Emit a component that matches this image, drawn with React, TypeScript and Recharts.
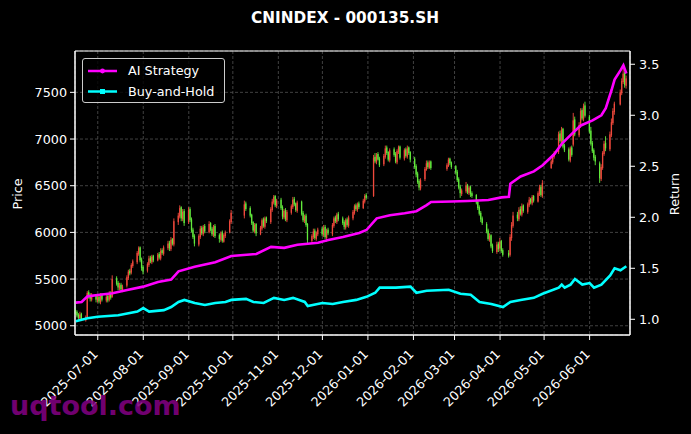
import { ComposedChart, Bar, Line, XAxis, YAxis, CartesianGrid, ReferenceArea } from 'recharts';

const FONT = '"DejaVu Sans", sans-serif';
const W = 691;
const H = 434;

const monthTicks = [
  '2025-07-01', '2025-08-01', '2025-09-01', '2025-10-01', '2025-11-01', '2025-12-01',
  '2026-01-01', '2026-02-01', '2026-03-01', '2026-04-01', '2026-05-01', '2026-06-01',
];
const priceTicks = [5000, 5500, 6000, 6500, 7000, 7500];
const returnTicks = [1.0, 1.5, 2.0, 2.5, 3.0, 3.5];

// exchange holidays (no candle on these weekdays)
const holidays = [
  '2025-10-01', '2025-10-02', '2025-10-03', '2025-10-06', '2025-10-07', '2025-10-08',
  '2026-01-01', '2026-01-02', '2026-02-16', '2026-02-17', '2026-02-18', '2026-02-19',
  '2026-02-20', '2026-02-23', '2026-04-06', '2026-05-01', '2026-05-04', '2026-05-05', '2026-06-19',
];

// daily OHLC, one entry per trading day, 2025-06-16 .. 2026-06-26
const opens = [
  5170, 5150, 5120, 5080, 5130, 5060, 5090, 5360, 5330, 5280, 5320,
  5270, 5310, 5250, 5330, 5270, 5320, 5280, 5350, 5310, 5510, 5460, 5400, 5440, 5380, 5430, 5510, 5590, 5570, 5640, 5680, 5770, 5840, 5710,
  5630, 5590, 5650, 5730, 5680, 5750, 5700, 5770, 5720, 5810, 5770, 5830, 5890, 5820, 5930, 5870, 6110, 6170, 6270, 6140, 6230,
  6110, 6250, 6140, 6030, 5960, 5870, 5950, 6050, 5980, 6070, 6000, 6100, 6040, 5970, 6070, 5970, 5920, 6000, 5900, 5960, 6000, 6110,
  6180, 6310, 6260, 6190, 6110, 6010, 6090, 5980, 6040, 6140, 6060, 6160, 6110, 6240, 6320, 6390, 6280,
  6350, 6270, 6160, 6240, 6130, 6210, 6270, 6360, 6310, 6230, 6330, 6210, 6120, 6180, 6090, 5910, 5950, 6020, 5930, 5980,
  6040, 5970, 6060, 5940, 6030, 5980, 6070, 6160, 6110, 6200, 6150, 6110, 6050, 6140, 6070, 6150, 6210, 6290, 6240, 6310, 6260, 6330, 6400,
  6390, 6810, 6750, 6840, 6790, 6730, 6810, 6910, 6860, 6770, 6890, 6840, 6750, 6860, 6920, 6790, 6890, 6810, 6910, 6860,
  6790, 6710, 6630, 6550, 6470, 6570, 6670, 6750, 6690, 6760, 6680, 6710, 6790, 6750,
  6710, 6650, 6570, 6490, 6410, 6440, 6510, 6420, 6490, 6420, 6400, 6330, 6270, 6210, 6150, 6090, 6020, 5920, 5970, 5860, 5790, 5880,
  5830, 5910, 5810, 5780, 5760, 5940, 6070, 6190, 6140, 6250, 6190, 6290, 6220, 6290, 6360, 6310, 6390, 6330, 6410, 6490, 6390,
  6690, 6750, 6810, 6860, 7060, 6970, 7110, 6930, 6890, 6770, 6910, 6940, 7210, 7040, 7140, 7310, 7210, 7360,
  7240, 7090, 6960, 6880, 6810, 6740, 6570, 6690, 6840, 6960, 6890, 7040, 7170, 7290, 7370, 7490, 7610, 7710, 7570,
];
const highs = [
  5190, 5165, 5135, 5150, 5140, 5110, 5370, 5380, 5350, 5350, 5340,
  5330, 5330, 5350, 5350, 5340, 5340, 5370, 5370, 5540, 5530, 5480, 5460, 5460, 5440, 5540, 5600, 5610, 5670, 5710, 5800, 5850, 5850, 5730,
  5650, 5680, 5750, 5750, 5760, 5760, 5780, 5790, 5830, 5830, 5860, 5910, 5910, 5950, 5940, 6150, 6210, 6290, 6280, 6250, 6250,
  6270, 6270, 6160, 6050, 5980, 5980, 6070, 6070, 6080, 6090, 6120, 6110, 6060, 6080, 6090, 5990, 6010, 6020, 5990, 6020, 6140, 6240,
  6340, 6330, 6280, 6200, 6120, 6100, 6100, 6070, 6150, 6160, 6170, 6170, 6270, 6360, 6400, 6400, 6360,
  6370, 6290, 6250, 6260, 6240, 6300, 6380, 6380, 6320, 6340, 6340, 6230, 6190, 6200, 6100, 5980, 6040, 6040, 6010, 6050,
  6060, 6080, 6080, 6040, 6050, 6100, 6170, 6180, 6210, 6220, 6170, 6130, 6150, 6160, 6180, 6240, 6300, 6310, 6320, 6330, 6360, 6410, 6420,
  6830, 6850, 6850, 6860, 6810, 6840, 6930, 6930, 6870, 6900, 6910, 6860, 6890, 6930, 6930, 6900, 6910, 6930, 6920, 6870,
  6810, 6730, 6650, 6570, 6580, 6700, 6770, 6770, 6770, 6770, 6740, 6800, 6800, 6760,
  6720, 6670, 6590, 6510, 6470, 6540, 6520, 6500, 6500, 6440, 6410, 6350, 6290, 6230, 6170, 6110, 6040, 5990, 5980, 5880, 5900, 5900,
  5940, 5920, 5830, 5810, 5980, 6110, 6220, 6220, 6270, 6280, 6310, 6300, 6320, 6380, 6370, 6400, 6400, 6440, 6510, 6510, 6560,
  6780, 6840, 6870, 7080, 7090, 7130, 7120, 6950, 6910, 6920, 6930, 7280, 7240, 7180, 7330, 7330, 7380, 7400,
  7260, 7130, 6980, 6900, 6830, 6760, 6730, 6870, 6980, 7030, 7080, 7220, 7330, 7400, 7530, 7650, 7760, 7720, 7680,
];
const lows = [
  5120, 5090, 5060, 5065, 5050, 5045, 5080, 5290, 5260, 5260, 5250,
  5250, 5240, 5230, 5260, 5250, 5250, 5260, 5280, 5300, 5430, 5380, 5380, 5370, 5360, 5410, 5490, 5540, 5550, 5620, 5660, 5750, 5680, 5590,
  5550, 5570, 5630, 5670, 5660, 5680, 5690, 5710, 5700, 5760, 5750, 5810, 5800, 5800, 5860, 5850, 6080, 6150, 6120, 6120, 6070,
  6090, 6110, 6000, 5930, 5850, 5850, 5930, 5970, 5960, 5990, 5990, 6010, 5960, 5950, 5940, 5890, 5900, 5890, 5890, 5940, 5990, 6090,
  6150, 6230, 6160, 6080, 6000, 5990, 5960, 5970, 6020, 6050, 6040, 6100, 6090, 6220, 6300, 6270, 6260,
  6240, 6140, 6140, 6120, 6110, 6190, 6250, 6280, 6220, 6210, 6180, 6110, 6100, 6060, 5880, 5890, 5930, 5920, 5910, 5960,
  5960, 5950, 5930, 5900, 5970, 5960, 6050, 6100, 6090, 6120, 6080, 6030, 6030, 6060, 6050, 6130, 6190, 6230, 6220, 6250, 6250, 6310, 6350,
  6380, 6740, 6730, 6770, 6700, 6710, 6790, 6830, 6760, 6750, 6810, 6740, 6730, 6840, 6780, 6770, 6800, 6790, 6830, 6750,
  6680, 6590, 6520, 6450, 6450, 6550, 6660, 6680, 6680, 6670, 6660, 6700, 6720, 6680,
  6620, 6540, 6460, 6370, 6390, 6420, 6410, 6400, 6380, 6370, 6300, 6240, 6180, 6110, 6080, 5990, 5910, 5900, 5830, 5780, 5770, 5790,
  5800, 5780, 5740, 5730, 5740, 5910, 6050, 6120, 6120, 6180, 6170, 6210, 6200, 6270, 6300, 6290, 6320, 6320, 6390, 6380, 6370,
  6680, 6730, 6790, 6840, 6960, 6950, 6900, 6860, 6760, 6750, 6810, 6920, 7030, 7020, 7120, 7200, 7190, 7230,
  7060, 6930, 6850, 6770, 6720, 6530, 6550, 6670, 6820, 6870, 6870, 7020, 7150, 7260, 7360, 7470, 7590, 7550, 7540,
];
const closes = [
  5140, 5110, 5085, 5120, 5070, 5090, 5350, 5310, 5290, 5330, 5280,
  5300, 5260, 5320, 5280, 5310, 5270, 5340, 5300, 5500, 5450, 5410, 5430, 5390, 5420, 5520, 5580, 5560, 5650, 5690, 5780, 5830, 5700, 5620,
  5580, 5660, 5720, 5690, 5740, 5700, 5760, 5730, 5800, 5780, 5840, 5880, 5830, 5920, 5880, 6120, 6180, 6260, 6150, 6220, 6100,
  6240, 6130, 6020, 5950, 5880, 5960, 6040, 5990, 6060, 6010, 6090, 6030, 5980, 6060, 5960, 5930, 5990, 5910, 5970, 6000, 6120, 6210,
  6300, 6250, 6180, 6100, 6020, 6080, 5990, 6050, 6130, 6070, 6150, 6120, 6250, 6330, 6380, 6290, 6340,
  6260, 6170, 6230, 6140, 6220, 6280, 6350, 6300, 6240, 6320, 6200, 6130, 6170, 6080, 5920, 5960, 6010, 5940, 5990, 6030,
  5980, 6050, 5950, 6020, 5990, 6080, 6150, 6120, 6190, 6140, 6100, 6060, 6130, 6080, 6160, 6220, 6280, 6250, 6300, 6270, 6340, 6390, 6370,
  6800, 6760, 6830, 6780, 6720, 6820, 6900, 6850, 6780, 6880, 6830, 6760, 6870, 6910, 6800, 6880, 6820, 6900, 6850, 6780,
  6700, 6620, 6540, 6480, 6560, 6680, 6740, 6700, 6750, 6690, 6720, 6780, 6740, 6700,
  6640, 6560, 6480, 6420, 6450, 6500, 6430, 6480, 6410, 6390, 6320, 6260, 6200, 6140, 6100, 6010, 5930, 5960, 5850, 5800, 5870, 5820,
  5900, 5800, 5760, 5750, 5950, 6080, 6180, 6150, 6240, 6200, 6280, 6230, 6300, 6350, 6320, 6380, 6340, 6420, 6480, 6400, 6530,
  6760, 6820, 6850, 7050, 6980, 7100, 6920, 6880, 6780, 6900, 6830, 7200, 7050, 7150, 7300, 7220, 7350, 7250,
  7080, 6950, 6870, 6800, 6760, 6580, 6700, 6850, 6950, 6900, 7050, 7180, 7300, 7380, 7500, 7620, 7700, 7580, 7650,
];

// cumulative return curves (read at the dates listed)
const aiDates = [
  '2025-06-16', '2025-06-20', '2025-06-24', '2025-07-01', '2025-07-11', '2025-07-21', '2025-08-01', '2025-08-11',
  '2025-08-20', '2025-08-25', '2025-09-05', '2025-09-19', '2025-09-30', '2025-10-17', '2025-10-27', '2025-11-05',
  '2025-11-14', '2025-11-28', '2025-12-05', '2025-12-15', '2025-12-26', '2025-12-31', '2026-01-07', '2026-01-16',
  '2026-01-26', '2026-02-03', '2026-02-10', '2026-02-13', '2026-02-27', '2026-03-10', '2026-03-24', '2026-04-02',
  '2026-04-07', '2026-04-08', '2026-04-15', '2026-04-24', '2026-04-30', '2026-05-08', '2026-05-13', '2026-05-20',
  '2026-05-26', '2026-06-03', '2026-06-09', '2026-06-12', '2026-06-16', '2026-06-18', '2026-06-22', '2026-06-24', '2026-06-26',
];
const aiReturn = [
  1.163, 1.17, 1.225, 1.238, 1.255, 1.287, 1.32, 1.366,
  1.39, 1.47, 1.515, 1.56, 1.62, 1.64, 1.71, 1.70,
  1.73, 1.75, 1.777, 1.807, 1.846, 1.875, 1.99, 2.02,
  2.04, 2.06, 2.12, 2.15, 2.155, 2.16, 2.17, 2.195,
  2.20, 2.33, 2.40, 2.45, 2.51, 2.62, 2.72, 2.82,
  2.90, 2.95, 3.00, 3.07, 3.25, 3.35, 3.44, 3.49, 3.41,
];
const bhDates = [
  '2025-06-16', '2025-06-24', '2025-07-01', '2025-07-15', '2025-07-28', '2025-08-01', '2025-08-05', '2025-08-15',
  '2025-08-20', '2025-08-25', '2025-08-29', '2025-09-05', '2025-09-12', '2025-09-19', '2025-09-26', '2025-09-30',
  '2025-10-10', '2025-10-15', '2025-10-22', '2025-10-29', '2025-11-05', '2025-11-11', '2025-11-19', '2025-11-21',
  '2025-12-01', '2025-12-08', '2025-12-15', '2025-12-24', '2025-12-31', '2026-01-06', '2026-01-09', '2026-01-20',
  '2026-01-30', '2026-02-03', '2026-02-10', '2026-02-25', '2026-03-05', '2026-03-12', '2026-03-18', '2026-03-26',
  '2026-04-03', '2026-04-08', '2026-04-15', '2026-04-24', '2026-04-30', '2026-05-11', '2026-05-13', '2026-05-15',
  '2026-05-19', '2026-05-22', '2026-05-27', '2026-06-01', '2026-06-04', '2026-06-09', '2026-06-15', '2026-06-18',
  '2026-06-22', '2026-06-26',
];
const bhReturn = [
  0.98, 1.01, 1.025, 1.04, 1.075, 1.11, 1.075, 1.09,
  1.12, 1.17, 1.19, 1.16, 1.14, 1.16, 1.17, 1.19,
  1.20, 1.17, 1.16, 1.21, 1.19, 1.21, 1.17, 1.13,
  1.16, 1.15, 1.17, 1.19, 1.22, 1.26, 1.31, 1.31,
  1.32, 1.26, 1.28, 1.29, 1.25, 1.24, 1.17, 1.15,
  1.12, 1.17, 1.19, 1.21, 1.25, 1.31, 1.34, 1.31,
  1.34, 1.395, 1.34, 1.355, 1.31, 1.34, 1.43, 1.50,
  1.48, 1.52,
];

const PRICE_DOMAIN: [number, number] = [4901, 7943];
const RETURN_DOMAIN: [number, number] = [0.846, 3.63];

const pad = (n: number) => String(n).padStart(2, '0');
const iso = (d: Date) => `${d.getUTCFullYear()}-${pad(d.getUTCMonth() + 1)}-${pad(d.getUTCDate())}`;

function buildRows() {
  const ai = new Map(aiDates.map((d, i) => [d, aiReturn[i]]));
  const bh = new Map(bhDates.map((d, i) => [d, bhReturn[i]]));
  const rows: any[] = [];
  let k = 0;
  for (let t = Date.UTC(2025, 5, 16); t <= Date.UTC(2026, 5, 28); t += 86400000) {
    const d = new Date(t);
    const date = iso(d);
    const wd = d.getUTCDay();
    const row: any = { date, ai: ai.get(date), bh: bh.get(date) };
    if (wd !== 0 && wd !== 6 && !holidays.includes(date) && k < closes.length) {
      row.open = opens[k];
      row.close = closes[k];
      row.high = highs[k];
      row.low = lows[k];
      row.range = [lows[k], highs[k]];
      k++;
    }
    rows.push(row);
  }
  return rows;
}

const rows = buildRows();

function Candle(props: any) {
  const { x, y, width, height, payload } = props;
  if (!payload || payload.open == null || !height) return <g />;
  const { open, close, high, low } = payload;
  const top = height < 0 ? y + height : y;
  const h = Math.abs(height);
  const k = h / (high - low || 1);
  const up = close >= open;
  const color = up ? '#f0493c' : '#62ea3c';
  const cx = x + width / 2;
  const bodyTop = top + (high - Math.max(open, close)) * k;
  const bodyH = Math.max(Math.abs(close - open) * k, 1);
  const bw = 1.3;
  return (
    <g>
      <line x1={cx} x2={cx} y1={top} y2={top + h} stroke={color} strokeWidth={0.9} />
      <rect x={cx - bw / 2} y={bodyTop} width={bw} height={bodyH} fill={color} />
    </g>
  );
}

function DateTick(props: any) {
  const { x, y, payload } = props;
  return (
    <g transform={`translate(${x + 1},${y + 13})`}>
      <text
        x={0}
        y={0}
        textAnchor="end"
        transform="rotate(-45)"
        fill="#fff"
        fontSize={12.75}
        fontFamily={FONT}
      >
        {payload.value}
      </text>
    </g>
  );
}

const tickStyle = { fill: '#fff', fontSize: 12.75, fontFamily: FONT };

function LegendBox() {
  return (
    <div
      style={{
        position: 'absolute',
        left: 82,
        top: 58,
        width: 143,
        height: 45,
        border: '1px solid #cccccc',
        borderRadius: 3,
        background: 'rgba(0,0,0,0.8)',
        boxSizing: 'border-box',
        fontFamily: FONT,
        fontSize: 12.75,
        color: '#fff',
      }}
    >
      <svg width={40} height={45} style={{ position: 'absolute', left: 0, top: 0 }}>
        <line x1={5} x2={34} y1={12} y2={12} stroke="#ff00ff" strokeWidth={2.5} />
        <circle cx={19.5} cy={12} r={2.4} fill="#ff00ff" />
        <line x1={5} x2={34} y1={32.5} y2={32.5} stroke="#00ffff" strokeWidth={2.5} />
        <rect x={17} y={30} width={5} height={5} fill="#00ffff" />
      </svg>
      <div style={{ position: 'absolute', left: 45, top: 3, lineHeight: '18px' }}>AI Strategy</div>
      <div style={{ position: 'absolute', left: 45, top: 24, lineHeight: '18px' }}>Buy-and-Hold</div>
    </div>
  );
}

export default function App() {
  return (
    <div
      style={{
        position: 'absolute',
        left: 0,
        top: 0,
        width: W,
        height: H,
        background: '#000',
        overflow: 'hidden',
      }}
    >
      <ComposedChart
        width={W}
        height={H}
        data={rows}
        margin={{ top: 51, right: 11, bottom: 9, left: 15 }}
        barCategoryGap={0}
        barGap={0}
      >
        <CartesianGrid yAxisId="price" stroke="#505050" strokeDasharray="3 2" strokeWidth={0.8} />
        <XAxis
          dataKey="date"
          ticks={monthTicks}
          interval={0}
          tick={<DateTick />}
          tickSize={5}
          tickMargin={2}
          height={90}
          stroke="#fff"
          tickLine={{ stroke: '#fff' }}
          axisLine={{ stroke: '#fff' }}
        />
        <YAxis
          yAxisId="price"
          domain={PRICE_DOMAIN}
          ticks={priceTicks}
          allowDataOverflow
          width={60}
          tickSize={5}
          tickMargin={3}
          tick={tickStyle}
          stroke="#fff"
        />
        <YAxis
          yAxisId="ret"
          orientation="right"
          domain={RETURN_DOMAIN}
          ticks={returnTicks}
          allowDataOverflow
          width={50}
          tickSize={5}
          tickMargin={4}
          tick={tickStyle}
          tickFormatter={(v: number) => v.toFixed(1)}
          stroke="#fff"
        />
        <Bar
          yAxisId="price"
          dataKey="range"
          shape={<Candle />}
          isAnimationActive={false}
        />
        <Line
          yAxisId="ret"
          dataKey="bh"
          stroke="#00ffff"
          strokeWidth={2.6}
          dot={false}
          activeDot={false}
          connectNulls
          isAnimationActive={false}
        />
        <Line
          yAxisId="ret"
          dataKey="ai"
          stroke="#ff00ff"
          strokeWidth={2.6}
          dot={false}
          activeDot={false}
          connectNulls
          isAnimationActive={false}
        />
        <ReferenceArea
          yAxisId="price"
          y1={PRICE_DOMAIN[0]}
          y2={PRICE_DOMAIN[1]}
          fill="none"
          stroke="#fff"
          strokeWidth={1}
          ifOverflow="visible"
        />
      </ComposedChart>

      <div
        style={{
          position: 'absolute',
          left: 0,
          width: W - 1,
          top: 8,
          textAlign: 'center',
          fontFamily: FONT,
          fontWeight: 'bold',
          fontSize: 15.3,
          lineHeight: '20px',
          color: '#fff',
        }}
      >
        CNINDEX - 000135.SH
      </div>
      <div
        style={{
          position: 'absolute',
          left: 17,
          top: 194,
          transform: 'translate(-50%, -50%) rotate(-90deg)',
          fontFamily: FONT,
          fontSize: 12.75,
          color: '#fff',
          whiteSpace: 'nowrap',
        }}
      >
        Price
      </div>
      <div
        style={{
          position: 'absolute',
          left: 674,
          top: 194,
          transform: 'translate(-50%, -50%) rotate(-90deg)',
          fontFamily: FONT,
          fontSize: 12.75,
          color: '#fff',
          whiteSpace: 'nowrap',
        }}
      >
        Return
      </div>
      <LegendBox />
      <div
        style={{
          position: 'absolute',
          left: 10,
          top: 388,
          fontFamily: FONT,
          fontWeight: 'bold',
          fontSize: 27,
          lineHeight: '36px',
          color: 'rgba(128, 0, 128, 0.9)',
          pointerEvents: 'none',
        }}
      >
        uqtool.com
      </div>
    </div>
  );
}
